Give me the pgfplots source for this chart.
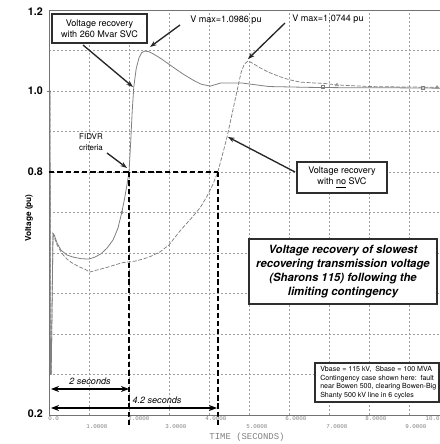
\documentclass[border=0pt]{standalone}
\usepackage{pgfplots}
\pgfplotsset{compat=1.18}
\usepackage{fontspec}
\setmainfont{TeX Gyre Heros}
\newfontfamily\monofont{Liberation Mono}
\usetikzlibrary{arrows.meta}
\definecolor{curve}{gray}{0.50}
\definecolor{gridc}{gray}{0.62}
\definecolor{axc}{gray}{0.45}
\definecolor{boxc}{gray}{0.18}
\definecolor{tickc}{gray}{0.5}
\begin{document}
\begin{tikzpicture}
\path[use as bounding box] (-36.75pt,-21.75pt) rectangle (293.25pt,311.25pt);
\begin{axis}[
  at={(0,0)}, anchor=south west,
  scale only axis, width=293.25pt, height=303.75pt,
  xmin=0, xmax=9.775, ymin=0.2, ymax=1.2,
  separate axis lines, axis x line*=box, axis y line*=left,
  axis line style={axc, line width=0.6pt},
  xtick={1,2,3,4,5,6,7,8,9}, xticklabels={},
  ytick={0.3,0.4,0.5,0.6,0.7,0.8,0.9,1.0,1.1}, yticklabels={},
  major tick length=0pt,
  grid=major,
  major grid style={gridc, line width=0.4pt, dash pattern=on 1.5pt off 1.5pt},
]
\addplot[curve, line width=0.6pt] coordinates {
(0,1.0)(0.025,1.0)(0.035,0.30)(0.055,0.30)(0.1,0.648)(0.13,0.645)(0.2,0.625)(0.3,0.607)(0.45,0.595)(0.6,0.59)(0.8,0.586)(1.0,0.585)(1.15,0.59)(1.3,0.598)(1.45,0.612)(1.6,0.632)(1.72,0.66)(1.82,0.70)(1.9,0.74)(1.96,0.775)(2.0,0.80)(2.04,0.87)(2.08,0.95)(2.12,1.01)(2.18,1.055)(2.25,1.082)(2.32,1.095)(2.4,1.0986)(2.5,1.097)(2.6,1.092)(2.8,1.08)(3.1,1.059)(3.35,1.042)(3.6,1.027)(3.8,1.017)(4.03,1.012)(4.2,1.017)(4.3,1.02)(4.8,1.02)(5.5,1.011)(6.5,1.009)(7.5,1.008)(8.5,1.008)(9.775,1.007)
};
\addplot[curve, line width=0.55pt, dash pattern=on 3pt off 1.2pt] coordinates {
(0,1.0)(0.025,1.0)(0.035,0.30)(0.055,0.30)(0.1,0.648)(0.13,0.64)(0.2,0.62)(0.33,0.598)(0.45,0.585)(0.57,0.576)(0.75,0.566)(0.9,0.56)(1.02,0.553)(1.2,0.558)(1.4,0.563)(1.6,0.569)(1.83,0.576)(2.0,0.578)(2.15,0.58)(2.35,0.585)(2.55,0.592)(2.78,0.603)(3.0,0.62)(3.28,0.655)(3.55,0.685)(3.78,0.712)(3.95,0.74)(4.1,0.77)(4.22,0.80)(4.33,0.84)(4.45,0.886)(4.58,0.945)(4.7,1.0)(4.8,1.045)(4.88,1.066)(4.98,1.0744)(5.1,1.068)(5.28,1.057)(5.5,1.046)(5.78,1.035)(6.0,1.028)(6.28,1.022)(6.6,1.02)(6.85,1.019)(7.2,1.015)(7.6,1.013)(8,1.011)(8.8,1.01)(9.775,1.009)
};
\addplot[only marks, mark=square, mark size=1.1pt, curve, mark options={line width=0.4pt}] coordinates {(6.85,1.011)(9.35,1.008)};
\addplot[only marks, mark=triangle, mark size=1.3pt, curve, mark options={line width=0.4pt}] coordinates {(7.2,1.015)(9.7,1.009)};
\addplot[only marks, mark=o, mark size=1pt, curve, mark options={line width=0.4pt}] coordinates {(1.82,0.70)};
\end{axis}
\begin{scope}[shift={(-36.75pt,311.25pt)}, x=0.75pt, y=-0.75pt]
% y tick labels
\begin{scope}[every node/.style={anchor=east, inner sep=0pt, font=\fontsize{8}{9}\selectfont\bfseries}]
\node at (43,12) {1.2};
\node at (43,91) {1.0};
\node at (43,172) {0.8};
\node at (43,414) {0.2};
\end{scope}
\draw[axc, line width=0.5pt] (47,91) -- (51,91);
% criteria lines
\draw[black, line width=1.1pt, dash pattern=on 4pt off 2.2pt] (49,172) -- (218,172);
\draw[black, line width=1.1pt, dash pattern=on 4pt off 2.2pt] (129,172) -- (129,428);
\draw[black, line width=1.1pt, dash pattern=on 4pt off 2.2pt] (218,172) -- (218,428);
% boxes
\draw[boxc, line width=1.1pt, fill=white] (52,14) rectangle (147,43);
\node[font=\fontsize{6.8}{8.25}\selectfont, align=center] at (99.5,28.5) {Voltage recovery\\with 260 Mvar SVC};
\draw[boxc, line width=0.9pt, fill=white] (297,162) rectangle (387,193);
\node[font=\fontsize{6.8}{8.25}\selectfont, align=center] at (342,177.5) {Voltage recovery\\with \underline{no} SVC};
\draw[boxc, line width=1.1pt, fill=white] (249,239) rectangle (437,304);
\node[font=\fontsize{8.5}{10.5}\selectfont\bfseries\itshape, align=center] at (343,272) {Voltage recovery of slowest\\recovering transmission voltage\\(Sharons 115) following the\\limiting contingency};
\draw[boxc, line width=0.8pt, fill=white] (315,363) rectangle (439,402);
\node[font=\fontsize{5.3}{6.5}\selectfont, align=left, anchor=west, inner sep=0pt] at (320,382.5) {Vbase = 115 kV,\ \ Sbase = 100 MVA\\Contingency case shown here:\ \ fault\\near Bowen 500, clearing Bowen-Big\\Shanty 500 kV line in 6 cycles};
% annotation texts
\node[font=\fontsize{6.8}{8}\selectfont, anchor=west, inner sep=0pt] at (190,20) {V max=1.0986 pu};
\node[font=\fontsize{6.8}{8}\selectfont, anchor=west, inner sep=0pt] at (292,19) {V max=1.0744 pu};
\node[font=\fontsize{6}{8.25}\selectfont, align=center] at (91,142) {FIDVR\\criteria};
% arrows
\draw[-{Stealth[length=5pt,width=3.6pt]}, line width=1pt, black!85] (83,45) -- (133,87);
\draw[-{Stealth[length=5pt,width=3.6pt]}, line width=1pt, black!85] (180,25) -- (150,47);
\draw[-{Stealth[length=5pt,width=3.6pt]}, line width=1pt, black!85] (285,23) -- (248,59);
\draw[-{Stealth[length=5pt,width=3.6pt]}, line width=1pt, black!85] (107,153) -- (127,168);
\draw[-{Stealth[length=5pt,width=3.6pt]}, line width=1pt, black!85] (295,172) -- (228,137);
% time spans
\draw[{Stealth[length=6pt,width=4.5pt]}-{Stealth[length=6pt,width=4.5pt]}, line width=1.1pt] (51,389) -- (129,389);
\draw[{Stealth[length=6pt,width=4.5pt]}-{Stealth[length=6pt,width=4.5pt]}, line width=1.1pt] (51,408) -- (217,408);
\node[font=\fontsize{6.8}{8}\selectfont\itshape] at (90,381) {2 seconds};
\node[font=\fontsize{6.8}{8}\selectfont\itshape] at (157,400) {4.2 seconds};
% x tick labels
\begin{scope}[every node/.style={anchor=west, inner sep=0pt, text=tickc, font=\monofont\fontsize{4.4}{5}\selectfont}]
\node at (48,419) {0.0};
\node at (128,419) {2.0000};
\node at (205,419) {4.0000};
\node at (285,419) {6.0000};
\node at (365,419) {8.0000};
\node[anchor=east] at (440,419) {10.0};
\node at (86,427) {1.0000};
\node at (165,427) {3.0000};
\node at (246,427) {5.0000};
\node at (326,427) {7.0000};
\node at (405,427) {9.0000};
\end{scope}
\node[text=tickc, font=\monofont\fontsize{6.7}{8}\selectfont] at (247,437) {TIME (SECONDS)};
\node[rotate=90, font=\fontsize{6.2}{7}\selectfont\bfseries] at (29,218) {Voltage (pu)};
\end{scope}
\end{tikzpicture}
\end{document}
